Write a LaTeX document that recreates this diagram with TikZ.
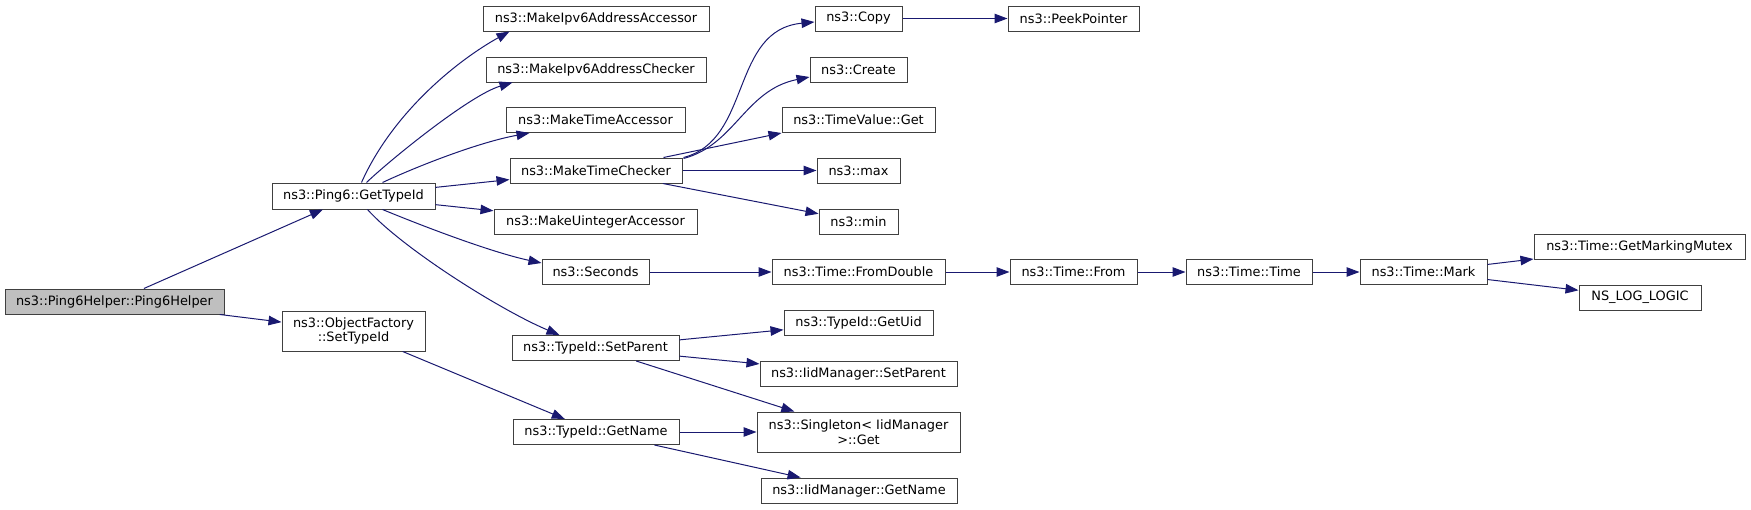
\documentclass[tikz,border=0pt]{standalone}
\usepackage{fontspec}
\setmainfont{DejaVu Sans}
\usetikzlibrary{arrows.meta}
\definecolor{navy}{HTML}{191970}
\definecolor{boxc}{HTML}{404040}
\definecolor{rootfill}{HTML}{BFBFBF}
\begin{document}
\begin{tikzpicture}[x=1pt,y=-1pt,
  box/.style={draw=boxc, line width=1pt, fill=white, inner sep=0pt, align=center, font=\fontsize{12.9}{14.5}\selectfont},
  conn/.style={draw=navy, line width=1pt, -{Triangle[length=13pt,width=9.5pt]}}]
\useasboundingbox (0,0) rectangle (1751,509);

% column 0-1
\node[box, fill=rootfill, minimum width=219pt, minimum height=25pt] (root) at (114.5,301.5) {ns3::Ping6Helper::Ping6Helper};
\node[box, minimum width=163pt, minimum height=26pt] (gti) at (353.5,196) {ns3::Ping6::GetTypeId};
\node[box, minimum width=143pt, minimum height=40pt] (ofs) at (353.5,331) {ns3::ObjectFactory\\::SetTypeId};

% column 2
\node[box, minimum width=226pt, minimum height=25pt] (mia) at (596,18.5) {ns3::MakeIpv6AddressAccessor};
\node[box, minimum width=220pt, minimum height=25pt] (mic) at (596,69.5) {ns3::MakeIpv6AddressChecker};
\node[box, minimum width=179pt, minimum height=25pt] (mta) at (595.5,120) {ns3::MakeTimeAccessor};
\node[box, minimum width=172pt, minimum height=25pt] (mtc) at (596,170.5) {ns3::MakeTimeChecker};
\node[box, minimum width=203pt, minimum height=25pt] (mua) at (595.5,221.5) {ns3::MakeUintegerAccessor};
\node[box, minimum width=107pt, minimum height=25pt] (sec) at (595.5,272) {ns3::Seconds};
\node[box, minimum width=167pt, minimum height=25pt] (tsp) at (595.5,348) {ns3::TypeId::SetParent};
\node[box, minimum width=166pt, minimum height=25pt] (tgn) at (596,432) {ns3::TypeId::GetName};

% column 3
\node[box, minimum width=87pt, minimum height=25pt] (copy) at (858.5,18.5) {ns3::Copy};
\node[box, minimum width=97pt, minimum height=25pt] (create) at (858.5,69.5) {ns3::Create};
\node[box, minimum width=153pt, minimum height=25pt] (tvg) at (858.5,120) {ns3::TimeValue::Get};
\node[box, minimum width=83pt, minimum height=25pt] (max) at (858.5,170.5) {ns3::max};
\node[box, minimum width=79pt, minimum height=25pt] (min) at (858.5,221.5) {ns3::min};
\node[box, minimum width=173pt, minimum height=25pt] (fd) at (858.5,272) {ns3::Time::FromDouble};
\node[box, minimum width=149pt, minimum height=25pt] (uid) at (858.5,322.5) {ns3::TypeId::GetUid};
\node[box, minimum width=197pt, minimum height=25pt] (isp) at (858.5,373.5) {ns3::IidManager::SetParent};
\node[box, minimum width=203pt, minimum height=40pt] (sing) at (858.5,432) {ns3::Singleton< IidManager\\>::Get};
\node[box, minimum width=196pt, minimum height=25pt] (ign) at (859,490.5) {ns3::IidManager::GetName};

% columns 4-7
\node[box, minimum width=131pt, minimum height=25pt] (peek) at (1073.5,18.5) {ns3::PeekPointer};
\node[box, minimum width=127pt, minimum height=25pt] (from) at (1073.5,272) {ns3::Time::From};
\node[box, minimum width=126pt, minimum height=25pt] (ttime) at (1249,272) {ns3::Time::Time};
\node[box, minimum width=127pt, minimum height=25pt] (mark) at (1423.5,272) {ns3::Time::Mark};
\node[box, minimum width=211pt, minimum height=25pt] (gmm) at (1639.5,246.5) {ns3::Time::GetMarkingMutex};
\node[box, minimum width=122pt, minimum height=25pt] (nll) at (1640,297.5) {NS\_LOG\_LOGIC};

% connectors
\draw[conn] (root) -- (gti);
\draw[conn] (root) -- (ofs);
\draw[conn] ([xshift=90pt]gti.north west) .. controls (393,112) and (458,60) .. ([xshift=27pt]mia.south west);
\draw[conn] ([xshift=95pt]gti.north west) .. controls (390,160) and (470,95) .. ([xshift=27pt]mic.south west);
\draw[conn] ([xshift=111pt]gti.north west) .. controls (420,165) and (480,142) .. ([xshift=24pt]mta.south west);
\draw[conn] (gti) -- (mtc);
\draw[conn] (gti) -- (mua);
\draw[conn] ([xshift=111pt]gti.south west) .. controls (420,225) and (490,252) .. ([yshift=9pt]sec.west);
\draw[conn] ([xshift=96pt]gti.south west) .. controls (402,248) and (500,310) .. ([xshift=48pt]tsp.north west);
\draw[conn] (ofs) -- (tgn);
\draw[conn] ([xshift=1pt]mtc.north east) .. controls (752,140) and (730,30) .. ([yshift=-3.5pt]copy.west);
\draw[conn] ([xshift=1pt,yshift=-1pt]mtc.north east) .. controls (735,145) and (745,90) .. ([yshift=-7.5pt]create.west);
\draw[conn] ([xshift=-19pt]mtc.north east) -- (tvg.south west);
\draw[conn] (mtc) -- (max);
\draw[conn] (mtc) -- (min);
\draw[conn] (copy) -- (peek);
\draw[conn] (sec) -- (fd);
\draw[conn] (fd) -- (from);
\draw[conn] (from) -- (ttime);
\draw[conn] (ttime) -- (mark);
\draw[conn] (mark) -- (gmm);
\draw[conn] (mark) -- (nll);
\draw[conn] (tsp) -- (uid);
\draw[conn] (tsp) -- (isp);
\draw[conn] (tsp) -- (sing);
\draw[conn] (tgn) -- (sing);
\draw[conn] (tgn) -- (ign);
\end{tikzpicture}
\end{document}
